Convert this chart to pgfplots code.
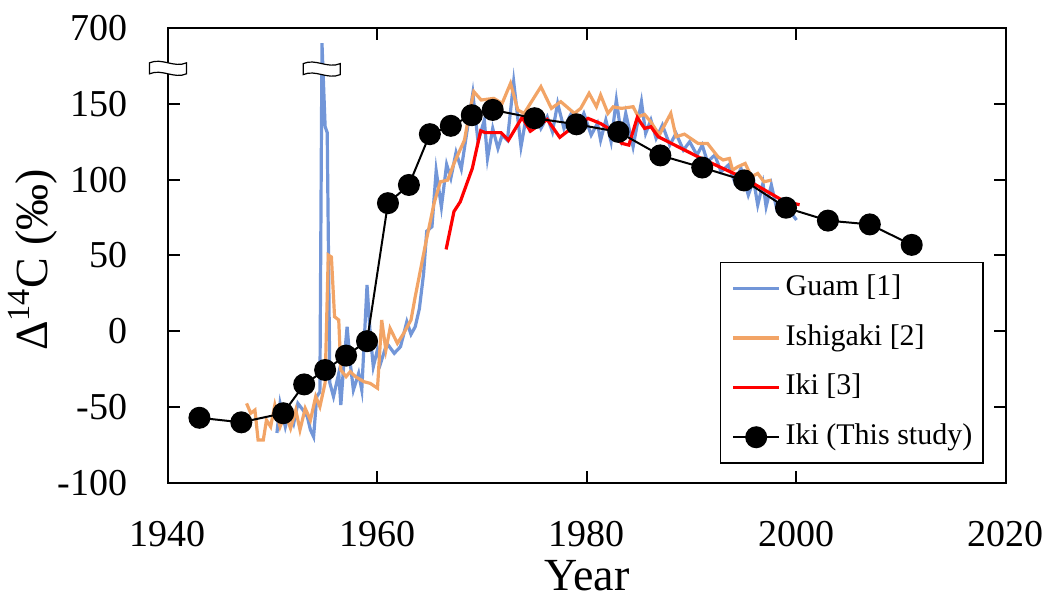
\documentclass[border=0pt]{standalone}
\usepackage{fontspec}
\setmainfont{Liberation Serif}
\usepackage{pgfplots}
\pgfplotsset{compat=1.18}

\definecolor{guam}{RGB}{114,150,216}
\definecolor{ishi}{RGB}{242,164,102}

% axis break mark (white wavy band)
\newcommand{\brk}[2]{%
  \draw[fill=white, line width=0.6pt, shift={(axis cs:#1,#2)}]
    (-9.25pt,2.75pt) .. controls (-3pt,5.5pt) and (3pt,0pt) .. (9.25pt,2.75pt)
    -- (9.25pt,-2.75pt) .. controls (3pt,-5.5pt) and (-3pt,0pt) .. (-9.25pt,-2.75pt)
    -- cycle;}

\begin{document}
\begin{tikzpicture}
\useasboundingbox (-84pt,-60pt) rectangle (442.5pt,241.5pt);
\begin{axis}[
    at={(0,0)}, anchor=south west,
    width=419pt, height=227.5pt, scale only axis,
    xmin=1940, xmax=2020, ymin=-100, ymax=200,
    xtick={1940,1960,1980,2000,2020},
    xticklabels={1940,1960,1980,2000,2020},
    ytick={-100,-50,0,50,100,150,200},
    yticklabels={-100,-50,0,50,100,150,700},
    tick align=inside, major tick length=6pt,
    axis line style={line width=1pt},
    tick style={black, line width=1pt},
    tick label style={font=\fontsize{19}{22}\selectfont},
    xticklabel style={anchor=base, yshift=-32pt},
    yticklabel style={anchor=east, inner sep=0pt, xshift=-20pt},
    xlabel={Year},
    ylabel={Δ\textsuperscript{14}C (‰)},
    label style={font=\fontsize{23}{26}\selectfont},
    xlabel style={at={(axis description cs:0.5,-0.236)}, anchor=base},
    ylabel style={at={(axis description cs:-0.1432,0.49)}, anchor=base},
    clip=false,
    legend cell align=left,
    legend image code/.code={\draw[mark repeat=2,mark phase=2,#1] plot coordinates {(0pt,0pt) (11.5pt,0pt) (23pt,0pt)};},
    legend style={at={(1,0)}, anchor=south east, xshift=-11pt, yshift=9.5pt,
        draw=black, line width=0.75pt, inner sep=5.5pt,
        font=\fontsize{15}{18}\selectfont,
        row sep=9.8pt, column sep=2.4pt,
        nodes={inner sep=0pt, text height=11pt, text depth=4pt}},
]

% Guam [1]
\addplot[color=guam, line width=1.6pt] coordinates {
(1950.4,-67) (1950.7,-47.5) (1951.2,-62.9) (1951.6,-52) (1952.0,-60.6) (1952.4,-47.5)
(1952.9,-52) (1953.3,-56.3) (1953.6,-65) (1953.9,-69.5) (1954.2,-43) (1954.5,-40)
(1954.7,190) (1955.0,135) (1955.2,131) (1955.45,-34) (1955.8,-43) (1956.3,-27.7)
(1956.5,-48.6) (1956.8,-20) (1957.1,3) (1957.4,-21) (1957.7,-38.7) (1958.2,-27.7)
(1958.5,-38.7) (1959.0,30.5) (1959.3,-1.3) (1959.6,-23.3) (1960.0,-12) (1960.3,-21)
(1960.9,-7.9) (1961.6,-14.5) (1962.2,-10.1) (1962.8,6.3) (1963.2,-2) (1963.6,3)
(1964.0,15) (1964.4,38) (1964.7,66) (1965.2,69) (1965.6,106) (1966.1,82)
(1966.6,110) (1967.0,101) (1967.5,118) (1968.0,107) (1968.5,130) (1969.1,157)
(1969.6,125) (1970.2,139.3) (1970.5,114) (1971.0,133.8) (1971.5,120.6) (1971.9,129.4)
(1972.4,126) (1973.0,164.6) (1973.7,121.7) (1974.2,141.5) (1974.5,133.8) (1975.1,143.7)
(1975.6,133.8) (1976.2,141.5) (1976.7,131.6) (1977.2,150.3) (1977.8,133.8) (1978.5,143.7)
(1979.1,134.9) (1979.7,143.7) (1980.4,129.4) (1981.0,137.1) (1981.3,126) (1981.8,139.3)
(1982.3,125) (1982.8,152.5) (1983.3,128.3) (1983.7,143.7) (1984.4,121.7) (1985.2,151.4)
(1985.6,130.5) (1986.1,139.3) (1986.6,127.2) (1987.2,136) (1987.9,122.8) (1988.5,130.5)
(1989.2,119.5) (1989.8,125) (1990.5,116.2) (1991.0,122.8) (1991.5,111.8) (1992.2,116.2)
(1992.8,105.2) (1993.5,109.6) (1994.1,98.6) (1994.7,107.4) (1995.4,89.8) (1995.9,99.7)
(1996.3,83.3) (1996.8,97.6) (1997.1,82.2) (1997.6,96.5) (1998.1,81.1) (1998.7,86.6)
(1999.3,80) (2000.0,73.4)
};
\addlegendentry{Guam [1]}

% Ishigaki [2]
\addplot[color=ishi, line width=1.6pt] coordinates {
(1947.5,-47.5) (1947.9,-54) (1948.3,-51.9) (1948.6,-71.6) (1949.1,-71.6) (1949.4,-58.5)
(1949.8,-62.9) (1950.2,-48.6) (1950.7,-62.9) (1951.2,-54) (1951.7,-64) (1952.2,-51.9)
(1952.6,-65) (1953.1,-50.8) (1953.6,-58.5) (1954.1,-43) (1954.5,-49.7) (1955.0,-34)
(1955.3,50.3) (1955.6,49) (1955.9,9.6) (1956.3,7.5) (1956.5,-25.5) (1957.0,-29.9)
(1957.4,-26.6) (1957.9,-29.9) (1958.7,-33.2) (1959.3,-34.3) (1960.0,-37.5) (1960.4,7.5)
(1960.8,-12.3) (1961.2,2) (1961.9,-7.9) (1962.5,-1.3) (1963.2,7.5) (1963.6,22.8)
(1964.6,58) (1965.4,84.4) (1966.0,98.6) (1966.7,99.7) (1967.3,110.7) (1968.3,126)
(1968.7,141.5) (1969.2,158) (1969.9,152.5) (1971.1,153.6) (1971.9,150.3) (1972.7,163.5)
(1973.4,145.9) (1974.0,143.7) (1975.6,161.3) (1976.6,147) (1977.5,151.4) (1978.8,143.7)
(1979.4,147) (1980.2,156.9) (1980.9,148.1) (1981.3,155.8) (1982.0,143.7) (1982.5,148)
(1983.3,147) (1984.4,148.1) (1984.9,141.5) (1985.5,143) (1986.1,138) (1986.9,129.4)
(1988.0,143.7) (1988.5,128.3) (1989.3,130) (1990.6,123.9) (1991.5,123.9) (1992.5,115.1)
(1993.0,113) (1993.6,114) (1993.9,106.3) (1994.4,108.5) (1995.1,110.7) (1995.7,101.9)
(1996.3,104.1) (1996.9,98.6) (1997.6,99.7)
};
\addlegendentry{Ishigaki [2]}

% Iki [3]
\addplot[color=red, line width=1.6pt] coordinates {
(1966.55,54) (1967.3,79) (1967.9,85.4) (1969.05,107.4) (1969.85,132.2) (1970.3,131)
(1971.8,131) (1972.5,126) (1973.8,141) (1974.6,132) (1976.2,139.7) (1977.4,127.9)
(1978.5,133.8) (1980.1,140.4) (1981.3,137) (1982.3,132.7) (1983.3,124) (1984.0,122.8)
(1984.8,141) (1985.5,133.8) (1986.1,134.9) (1986.8,128.3) (1990.9,114) (1995.0,101)
(1998.9,85.4) (2000.3,83.5)
};
\addlegendentry{Iki [3]}

% Iki (This study)
\addplot[color=black, line width=1pt, mark=*, mark size=5pt, mark options={solid, fill=black}] coordinates {
(1943,-57) (1947,-60) (1951,-54) (1953,-35) (1955,-25.5) (1957,-16) (1959,-6.5)
(1961,84.5) (1963,96.5) (1965,130) (1967,135.5) (1969,142.5) (1971,146)
(1975,140.5) (1979,136.5) (1983,131.5) (1987,116) (1991,108) (1995,99.5)
(1999,81.5) (2003,73) (2007,70.5) (2011,57)
};
\addlegendentry{Iki (This study)}

\brk{1940}{173.4}
\brk{1954.68}{172.9}
\end{axis}
\end{tikzpicture}
\end{document}
